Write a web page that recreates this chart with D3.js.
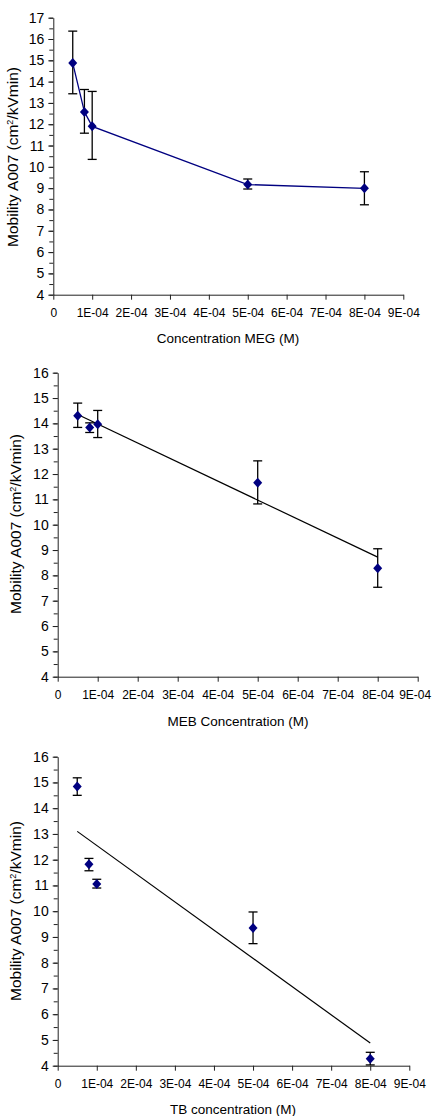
<!DOCTYPE html>
<html>
<head>
<meta charset="utf-8">
<script src="https://cdn.jsdelivr.net/npm/d3@7"></script>
<style>
  body { margin: 0; background: #fff; }
  svg { display: block; font-family: "Liberation Sans", Arial, sans-serif; }
</style>
</head>
<body>
<div id="chart"></div>
<script>
// valores (concentracion en M)
var conc = [5e-5, 8e-5, 1e-4, 5e-4, 8e-4];
var xTickVals = [0, 1e-4, 2e-4, 3e-4, 4e-4, 5e-4, 6e-4, 7e-4, 8e-4, 9e-4];
var xTickLabels = ["0", "1E-04", "2E-04", "3E-04", "4E-04", "5E-04", "6E-04", "7E-04", "8E-04", "9E-04"];

// grafico 1 - MEG
var megMob = [14.87, 12.58, 11.9, 9.17, 8.99];
var megHi = [16.37, 13.63, 13.54, 9.43, 9.77];
var megLo = [13.43, 11.58, 10.35, 8.96, 8.22];

// grafico 2 - MEB
var mebMob = [14.3, 13.84, 13.97, 11.66, 8.28];
var mebHi = [14.8, 14.02, 14.51, 12.52, 9.05];
var mebLo = [13.84, 13.64, 13.44, 10.82, 7.53];
var mebTrend = [[5e-5, 14.35], [8e-4, 8.72]];

// grafico 3 - TB
var tbMob = [14.84, 11.82, 11.06, 9.35, 4.27];
var tbHi = [15.18, 12.05, 11.24, 9.97, 4.52];
var tbLo = [14.5, 11.57, 10.9, 8.74, 4.03];
var tbTrend = [[5e-5, 13.1], [8e-4, 4.88]];

var W = 432;

var svg = d3.select("#chart").append("svg")
    .attr("width", W)
    .attr("height", 1116);

var panel = function(cfg) {
    var x = d3.scaleLinear().domain([0, 9e-4]).range([cfg.left, cfg.right]);
    var y = d3.scaleLinear().domain([cfg.ymin, cfg.ymax]).range([cfg.bottom, cfg.top]);
    var g = svg.append("g");

    // eje y con ticks menores
    var minor = d3.range(cfg.ymin, cfg.ymax + 0.01, 0.5);
    g.append("g")
        .attr("transform", "translate(" + cfg.left + ",0)")
        .call(d3.axisLeft(y).tickValues(minor).tickSize(4).tickFormat(""))
        .call(function(a) { a.select(".domain").remove(); });
    var yAx = g.append("g")
        .attr("transform", "translate(" + cfg.left + ",0)")
        .call(d3.axisLeft(y).tickValues(d3.range(cfg.ymin, cfg.ymax + 1, 1)).tickSize(5).tickSizeOuter(0).tickPadding(4).tickFormat(d3.format("d")));
    yAx.selectAll("text").attr("font-size", 14).attr("fill", "#000").attr("font-family", null);

    var xAx = g.append("g")
        .attr("transform", "translate(0," + cfg.bottom + ")")
        .call(d3.axisBottom(x).tickValues(xTickVals).tickSize(5).tickSizeOuter(0).tickPadding(9)
            .tickFormat(function(d, i) { return xTickLabels[i]; }));
    xAx.selectAll("text").attr("font-size", 12).attr("fill", "#000").attr("font-family", null);
    g.selectAll(".domain, .tick line").attr("stroke", "#222");

    // si la ultima etiqueta se sale del borde, la corro un poco
    xAx.selectAll(".tick text").each(function(d) {
        var bb = this.getBBox();
        var right = x(d) + bb.x + bb.width;
        if (right > W - 1) d3.select(this).attr("x", (W - 1) - right);
    });

    // titulos
    g.append("text")
        .attr("x", cfg.xTitleX).attr("y", cfg.xTitleY)
        .attr("text-anchor", "middle")
        .attr("font-size", 13.5)
        .text(cfg.xTitle);

    var yt = g.append("text")
        .attr("transform", "translate(" + cfg.yTitleX + "," + cfg.yTitleY + ") rotate(-90)")
        .attr("text-anchor", "middle")
        .attr("font-size", 15.5);
    yt.append("tspan").text("Mobility A007 (cm");
    yt.append("tspan").attr("baseline-shift", "super").attr("font-size", 9).text("2");
    yt.append("tspan").text("/kVmin)");

    // linea de datos o tendencia
    if (cfg.connect) {
        g.append("path")
            .datum(cfg.mob)
            .attr("fill", "none")
            .attr("stroke", "#000080")
            .attr("stroke-width", 1.3)
            .attr("d", d3.line().x(function(d, i) { return x(conc[i]); }).y(function(d) { return y(d); }));
    }
    if (cfg.trend) {
        g.append("path")
            .datum(cfg.trend)
            .attr("fill", "none")
            .attr("stroke", "#000")
            .attr("stroke-width", 1.2)
            .attr("d", d3.line().x(function(d) { return x(d[0]); }).y(function(d) { return y(d[1]); }));
    }

    // barras de error
    var eb = g.append("g").attr("stroke", "#000").attr("stroke-width", 1.3)
        .selectAll("g").data(cfg.mob).enter().append("g");
    eb.append("line")
        .attr("x1", function(d, i) { return x(conc[i]); })
        .attr("x2", function(d, i) { return x(conc[i]); })
        .attr("y1", function(d, i) { return y(cfg.hi[i]); })
        .attr("y2", function(d, i) { return y(cfg.lo[i]); });
    eb.append("line")
        .attr("x1", function(d, i) { return x(conc[i]) - 4.5; })
        .attr("x2", function(d, i) { return x(conc[i]) + 4.5; })
        .attr("y1", function(d, i) { return y(cfg.hi[i]); })
        .attr("y2", function(d, i) { return y(cfg.hi[i]); });
    eb.append("line")
        .attr("x1", function(d, i) { return x(conc[i]) - 4.5; })
        .attr("x2", function(d, i) { return x(conc[i]) + 4.5; })
        .attr("y1", function(d, i) { return y(cfg.lo[i]); })
        .attr("y2", function(d, i) { return y(cfg.lo[i]); });

    // marcadores rombo
    g.append("g").selectAll("path").data(cfg.mob).enter().append("path")
        .attr("transform", function(d, i) { return "translate(" + x(conc[i]) + "," + y(d) + ")"; })
        .attr("d", "M0,-5L4.5,0L0,5L-4.5,0Z")
        .attr("fill", "#000080");
};

panel({left: 53.3, right: 403.3, top: 17.7, bottom: 294.7, ymin: 4, ymax: 17,
    mob: megMob, hi: megHi, lo: megLo, connect: true,
    xTitle: "Concentration MEG (M)", xTitleX: 228, xTitleY: 343,
    yTitleX: 18, yTitleY: 157});

panel({left: 57.7, right: 417.7, top: 372.7, bottom: 676.7, ymin: 4, ymax: 16,
    mob: mebMob, hi: mebHi, lo: mebLo, trend: mebTrend,
    xTitle: "MEB Concentration (M)", xTitleX: 238, xTitleY: 726,
    yTitleX: 21, yTitleY: 524});

panel({left: 57.7, right: 409.3, top: 756.7, bottom: 1065.7, ymin: 4, ymax: 16,
    mob: tbMob, hi: tbHi, lo: tbLo, trend: tbTrend,
    xTitle: "TB concentration (M)", xTitleX: 233, xTitleY: 1114,
    yTitleX: 21, yTitleY: 911});
</script>
</body>
</html>
